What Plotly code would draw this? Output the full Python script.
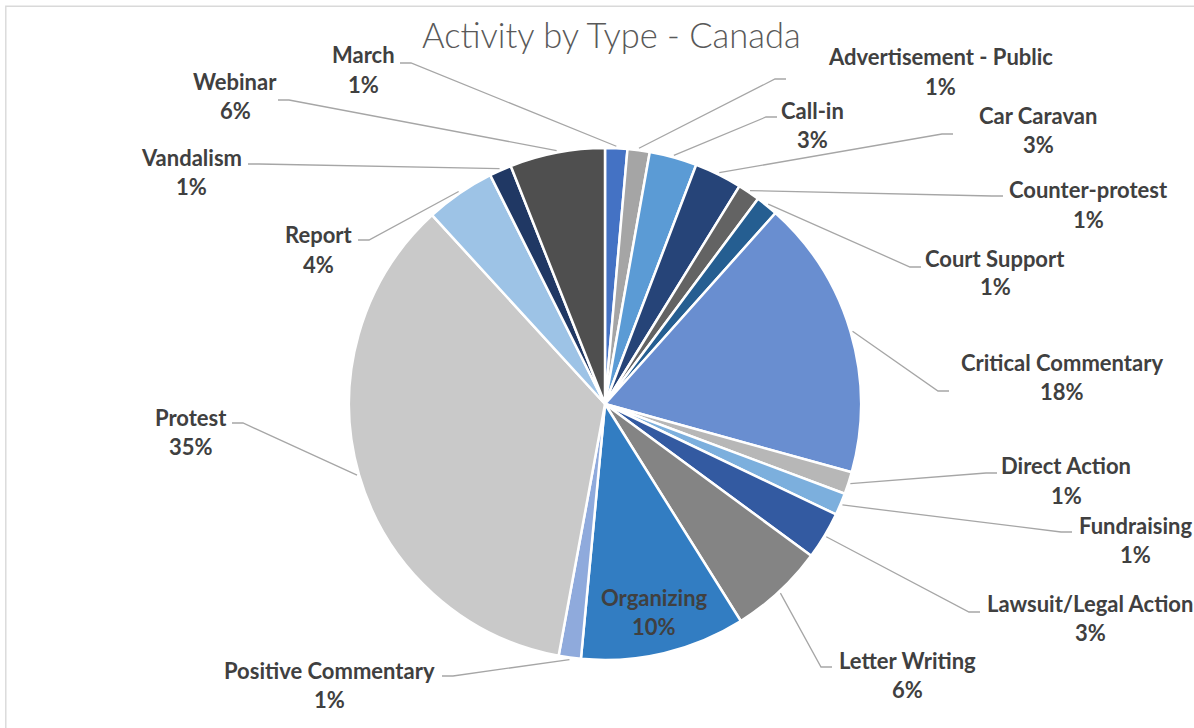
import math
import plotly.graph_objects as go

# ---------------- data ----------------
categories = ["March", "Advertisement - Public", "Call-in", "Car Caravan", "Counter-protest",
              "Court Support", "Critical Commentary", "Direct Action", "Fundraising",
              "Lawsuit/Legal Action", "Letter Writing", "Organizing", "Positive Commentary",
              "Protest", "Report", "Vandalism", "Webinar"]
shares = [1.4, 1.4, 3.0, 3.0, 1.4, 1.4, 17.7, 1.4, 1.4, 3.0, 6.0, 10.4, 1.4, 35.3, 4.4, 1.4, 6.0]
title_text = "Activity by Type - Canada"

# ---------------- styles / layout ----------------
W, H = 1194, 728
CX, CY, R = 605, 404, 256          # pie centre / radius in pixels

colors = ["#4472C4", "#A5A5A5", "#5B9BD5", "#264478", "#636363", "#255E91", "#698ED0",
          "#B7B7B7", "#7CAFDD", "#335AA1", "#848484", "#327DC2", "#8FAADC", "#C9C9C9",
          "#9DC3E6", "#203864", "#4F4F4F"]

# label placement: (centre x, first-line y, leader anchor x, leader anchor y, side)
label_pos = {
    "March": (363, 55, 400, 63, "L"),
    "Advertisement - Public": (941, 57, 786, 79, "R"),
    "Call-in": (812, 110, 777, 117, "R"),
    "Car Caravan": (1038, 116, 953, 134, "R"),
    "Counter-protest": (1088, 190, 1003, 196, "R"),
    "Court Support": (995, 258, 921, 267, "R"),
    "Critical Commentary": (1062, 362, 949, 391, "R"),
    "Direct Action": (1066, 466, 997, 473, "R"),
    "Fundraising": (1135, 525, 1072, 532, "R"),
    "Lawsuit/Legal Action": (1090, 603, 980, 612, "R"),
    "Letter Writing": (907, 660, 832, 667, "R"),
    "Positive Commentary": (330, 670, 442, 676, "L"),
    "Protest": (191, 417, 232, 423, "L"),
    "Report": (318, 235, 358, 240, "L"),
    "Vandalism": (191, 157, 248, 164, "L"),
    "Webinar": (235, 81, 278, 100, "L"),
}
inside_labels = {"Organizing": 0.835}
LINE_GAP = 29
LABEL_FONT = dict(family="Lato", size=22, color="#404040", weight="bold")
LEADER_COLOR = "#A6A6A6"


def X(px):
    return px / W


def Y(py):
    return 1 - py / H


total = sum(shares)
fig = go.Figure(go.Pie(
    labels=categories, values=shares, sort=False, direction="clockwise", rotation=0,
    marker=dict(colors=colors, line=dict(color="white", width=2.5)),
    textinfo="none", hoverinfo="label+percent", showlegend=False,
    domain=dict(x=[X(CX - R), X(CX + R)], y=[Y(CY + R), Y(CY - R)]),
))

annotations = []
shapes = []
cum = 0.0
for name, v in zip(categories, shares):
    mid = 2 * math.pi * (cum + v / 2) / total
    cum += v
    pct = f"{round(v / total * 100)}%"
    if name in inside_labels:
        rr = R * inside_labels[name]
        lx = CX + rr * math.sin(mid)
        ly = CY - rr * math.cos(mid)
        annotations.append(dict(x=X(lx), y=Y(ly - LINE_GAP / 2), text=name, showarrow=False,
                                xref="paper", yref="paper", xanchor="center", yanchor="middle",
                                font=LABEL_FONT))
        annotations.append(dict(x=X(lx), y=Y(ly + LINE_GAP / 2), text=pct, showarrow=False,
                                xref="paper", yref="paper", xanchor="center", yanchor="middle",
                                font=LABEL_FONT))
        continue
    cx_l, y1, ax, ay, side = label_pos[name]
    annotations.append(dict(x=X(cx_l), y=Y(y1), text=name, showarrow=False,
                            xref="paper", yref="paper", xanchor="center", yanchor="middle",
                            font=LABEL_FONT))
    annotations.append(dict(x=X(cx_l), y=Y(y1 + LINE_GAP), text=pct, showarrow=False,
                            xref="paper", yref="paper", xanchor="center", yanchor="middle",
                            font=LABEL_FONT))
    # leader line: slice edge -> elbow -> label anchor
    sx = CX + (R + 2) * math.sin(mid)
    sy = CY - (R + 2) * math.cos(mid)
    ex = ax + (-11 if side == "R" else 11)
    path = f"M {X(sx)} {Y(sy)} L {X(ex)} {Y(ay)} L {X(ax)} {Y(ay)}"
    shapes.append(dict(type="path", path=path, xref="paper", yref="paper",
                       line=dict(color=LEADER_COLOR, width=1.3)))

# title
annotations.append(dict(x=X(611), y=Y(34), text=title_text, showarrow=False,
                        xref="paper", yref="paper", xanchor="center", yanchor="middle",
                        font=dict(family="Lato", size=34.5, color="#595959", weight=300)))

# chart border
shapes.append(dict(type="rect", xref="paper", yref="paper", x0=X(5.8), y0=Y(H + 20),
                   x1=X(W + 20), y1=Y(6.3), line=dict(color="#D9D9D9", width=1.4)))

fig.update_layout(
    width=W, height=H, margin=dict(l=0, r=0, t=0, b=0),
    paper_bgcolor="white", plot_bgcolor="white",
    annotations=annotations, shapes=shapes,
)
fig.write_html("out.html", config={"displayModeBar": False},
               post_script="document.body.style.margin='0';")
